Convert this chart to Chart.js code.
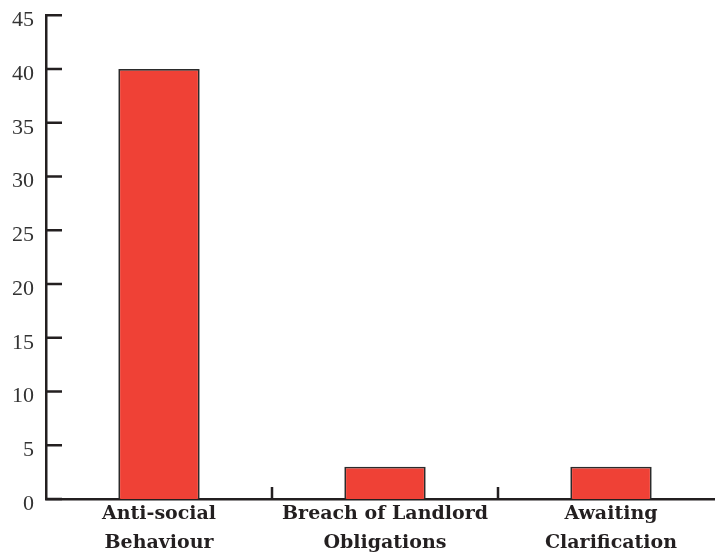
<!DOCTYPE html>
<html>
<head>
<meta charset="utf-8">
<script src="https://cdn.jsdelivr.net/npm/chart.js@4.4.1/dist/chart.umd.min.js"></script>
<style>
    html, body { margin: 0; padding: 0; background: #fff; overflow: hidden; }
    #wrap { width: 730px; height: 558px; }
</style>
</head>
<body>
<div id="wrap"><canvas id="complaintsChart"></canvas></div>
<script>
const categories = [
    ['Anti-social', 'Behaviour'],
    ['Breach of Landlord', 'Obligations'],
    ['Awaiting', 'Clarification']
];
const complaintCounts = [40, 3, 3];
const yTicks = [0, 5, 10, 15, 20, 25, 30, 35, 40, 45];

// inward tick marks, like the original
const innerTicks = {
    id: 'innerTicks',
    afterDatasetsDraw(chart) {
        const { ctx, chartArea, scales } = chart;
        ctx.save();
        ctx.strokeStyle = '#231f20';
        ctx.lineWidth = 2.5;
        ctx.beginPath();
        yTicks.forEach(v => {
            const py = scales.y.getPixelForValue(v);
            ctx.moveTo(chartArea.left, py);
            ctx.lineTo(chartArea.left + 16, py);
        });
        for (let i = 0; i < categories.length - 1; i++) {
            const px = scales.x.getPixelForValue(i + 0.5);
            ctx.moveTo(px, chartArea.bottom);
            ctx.lineTo(px, chartArea.bottom - 12);
        }
        ctx.stroke();
        ctx.restore();
    }
};

new Chart(document.getElementById('complaintsChart'), {
    type: 'bar',
    data: {
        labels: categories,
        datasets: [{
            data: complaintCounts,
            backgroundColor: '#ef4136',
            borderColor: '#2b2b2b',
            borderWidth: 1.8,
            borderSkipped: 'bottom',
            categoryPercentage: 1,
            barPercentage: 0.36
        }]
    },
    options: {
        responsive: true,
        maintainAspectRatio: false,
        animation: false,
        layout: { padding: { top: 0, right: 6, left: 0, bottom: 0 } },
        plugins: {
            legend: { display: false },
            tooltip: { enabled: false }
        },
        scales: {
            x: {
                grid: { display: false, drawTicks: false },
                border: { display: true, color: '#231f20', width: 2.5 },
                ticks: {
                    color: '#231f20',
                    padding: 1,
                    maxRotation: 0,
                    autoSkip: false,
                    font: { family: 'DejaVu Serif', size: 19, weight: 'bold', lineHeight: 1.5 }
                }
            },
            y: {
                min: 0,
                max: 45,
                afterBuildTicks: axis => { axis.ticks = yTicks.map(v => ({ value: v })); },
                grid: { display: false, drawTicks: false },
                border: { display: true, color: '#231f20', width: 2.5 },
                ticks: {
                    color: '#333',
                    padding: 12,
                    labelOffset: 5,
                    font: { family: 'Liberation Serif', size: 22, lineHeight: 0.3 }
                }
            }
        }
    },
    plugins: [innerTicks]
});
</script>
</body>
</html>
